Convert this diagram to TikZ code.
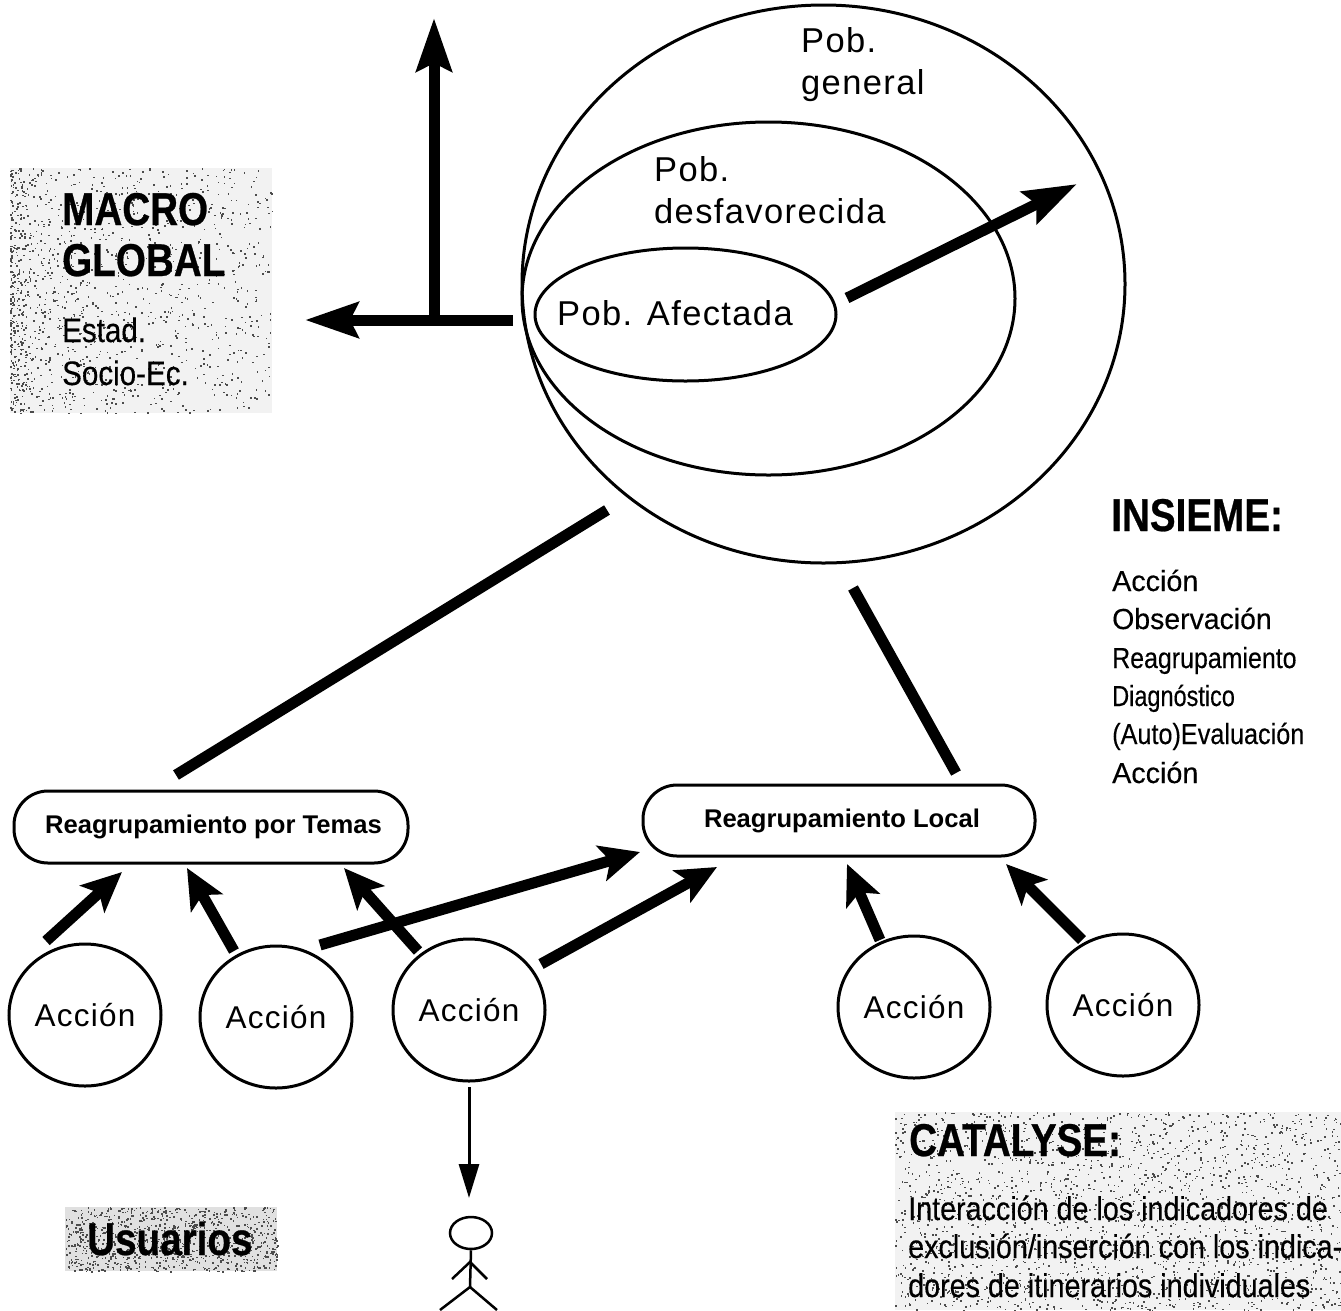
\documentclass[tikz,border=0pt]{standalone}
\usepackage{graphicx}
\usepackage{fontspec}
\setmainfont{Liberation Sans}
\newfontfamily\widefont[LetterSpace=4]{Liberation Sans}
\newfontfamily\headfont[FakeStretch=0.84,BoldFeatures={FakeBold=0.6}]{Liberation Sans}
\newfontfamily\bodyfont[FakeStretch=0.87,FakeBold=0.3]{Liberation Sans}
\newfontfamily\listfont[FakeBold=0.3]{Liberation Sans}
\newcommand{\sx}[2]{\scalebox{#1}[1]{#2}}
\newcommand{\speckle}[6]{% count, x, y, w, h, skew power
  \foreach \k in {1,...,#1}{
    \pgfmathsetmacro{\px}{#2+#4*(rnd^#6)}
    \pgfmathsetmacro{\py}{#3+#5*rnd}
    \fill[black!70] (\px,\py) rectangle +(1.6,1.6);
  }}
\usetikzlibrary{shapes.geometric,arrows.meta}
\tikzset{
  set/.style={draw,ellipse,line width=3pt,inner sep=0pt},
  accion/.style={set,minimum width=152pt,minimum height=142pt,font=\widefont\fontsize{31.5}{31.5}\selectfont},
  grupo/.style={draw,rounded corners=34pt,line width=3pt,inner sep=0pt,font=\bfseries\fontsize{25.6}{25.6}\selectfont},
  heavy/.style={line width=11pt},
  heavyarrow/.style={heavy,-{Stealth[length=40pt,width=36pt,inset=9pt]}},
  bigarrow/.style={heavy,-{Stealth[length=53pt,width=35pt,inset=8pt]}},
  thinarrow/.style={line width=3pt,-{Stealth[length=34pt,width=20pt,inset=0pt]}},
  stick/.style={line width=2.5pt},
  shade/.style={fill=black!5,draw=none,inner sep=0pt},
  head/.style={font=\headfont\bfseries\fontsize{46}{46}\selectfont,anchor=base west,inner sep=0pt},
  lbl/.style={font=\widefont\fontsize{34.5}{34.5}\selectfont,anchor=base west,inner sep=0pt},
  txt/.style={font=\bodyfont\fontsize{34}{34}\selectfont,anchor=base west,inner sep=0pt},
  lst/.style={font=\listfont\fontsize{29}{29}\selectfont,anchor=base west,inner sep=0pt},
  cat/.style={font=\bodyfont\fontsize{33}{33}\selectfont,anchor=base west,inner sep=0pt},
}
\begin{document}
\begin{tikzpicture}[x=1pt,y=-1pt]
\useasboundingbox (0,0) rectangle (1341,1310);
\pgfmathsetseed{4242}
% shaded panels
\node[shade,minimum width=262pt,minimum height=245pt] (macrobg) at (141,290) {};
\node[shade,minimum width=212pt,minimum height=64pt,fill=black!12] (usubg) at (171,1239) {};
\node[shade,minimum width=446pt,minimum height=198pt] (catbg) at (1118,1211) {};
\speckle{1300}{10}{168}{262}{245}{1.8}
\speckle{900}{65}{1207}{212}{64}{1}
\speckle{2000}{895}{1112}{446}{198}{1}
% population sets
\node[set,minimum width=603pt,minimum height=558pt] (gen) at (823.5,284) {};
\node[set,minimum width=493pt,minimum height=353pt] (des) at (768.5,298.5) {};
\node[set,minimum width=301pt,minimum height=133pt] (afe) at (685.5,314.5) {};
\node[lbl] (t1) at (801,52) {Pob.};
\node[lbl] (t2) at (801,94) {general};
\node[lbl] (t3) at (654,181) {Pob.};
\node[lbl] (t4) at (654,223) {desfavorecida};
\node[lbl] (t5) at (557,325) {Pob. Afectada};
% macro text
\node[head] (m1) at (62,225) {MACRO};
\node[head] (m2) at (62,276) {GLOBAL};
\node[txt] (m3) at (62,342) {Estad.};
\node[txt] (m4) at (62,385) {Socio-Ec.};
% axes
\coordinate (axc) at (434,320);
\coordinate (axtop) at (434,18);
\coordinate (axleft) at (305,320);
\coordinate (axr) at (513,320);
\draw[bigarrow] (axc) -- (axtop);
\draw[bigarrow] (axr) -- (axleft);
\coordinate (ds) at (847,298);
\coordinate (de) at (1077,184);
\draw[bigarrow] (ds) -- (de);
% insieme
\node[head] (i0) at (1111,531) {INSIEME:};
\node[lst] (i1) at (1112,591) {\sx{0.99}{Acción}};
\node[lst] (i2) at (1112,629) {\sx{0.98}{Observación}};
\node[lst] (i3) at (1112,668) {\sx{0.86}{Reagrupamiento}};
\node[lst] (i4) at (1112,706) {\sx{0.81}{Diagnóstico}};
\node[lst] (i5) at (1112,744) {\sx{0.87}{(Auto)Evaluación}};
\node[lst] (i6) at (1112,783) {\sx{0.99}{Acción}};
% groupings
\node[grupo,minimum width=394pt,minimum height=72pt] (rt) at (211,827) {\hspace*{5pt}\raisebox{3pt}{Reagrupamiento por Temas}};
\node[grupo,minimum width=392pt,minimum height=71pt] (rl) at (839,820.5) {\hspace*{6pt}\raisebox{2pt}{Reagrupamiento Local}};
\coordinate (l1a) at (607,510);
\coordinate (l1b) at (176,775);
\coordinate (l2a) at (853,588);
\coordinate (l2b) at (956,773);
\draw[heavy] (l1a) -- (l1b);
\draw[heavy] (l2a) -- (l2b);
% actions
\node[accion] (a1) at (85,1015) {Acción};
\node[accion] (a2) at (276,1017) {Acción};
\node[accion] (a3) at (469,1010) {Acción};
\node[accion] (a4) at (914,1007) {Acción};
\node[accion] (a5) at (1123,1005) {Acción};
% arrows
\coordinate (s1) at (46,941);   \coordinate (e1) at (122,872);
\coordinate (s2) at (234,951);  \coordinate (e2) at (187,868);
\coordinate (s3) at (418,951);  \coordinate (e3) at (344,868);
\coordinate (s4) at (320,945);  \coordinate (e4) at (640,852);
\coordinate (s5) at (541,964);  \coordinate (e5) at (717,867);
\coordinate (s6) at (880,940);  \coordinate (e6) at (847,864);
\coordinate (s7) at (1082,940); \coordinate (e7) at (1006,864);
\foreach \n in {1,...,7} \draw[heavyarrow] (s\n) -- (e\n);
% user
\node[draw,ellipse,stick,minimum width=42pt,minimum height=32pt,inner sep=0pt] (hd) at (471,1233) {};
\coordinate (pe) at (469,1198);
\draw[thinarrow] (a3) ++(0,77) -- (pe);
\coordinate (hip) at (470,1287);
\coordinate (sh) at (470,1262);
\coordinate (ha) at (452,1279);
\coordinate (hb) at (487,1279);
\coordinate (fa) at (440,1310);
\coordinate (fb) at (497,1310);
\draw[stick] (hd.south) -- (hip);
\draw[stick] (ha) -- (sh) -- (hb);
\draw[stick] (fa) -- (hip) -- (fb);
\node[head] (u) at (87,1255) {Usuarios};
% catalyse
\node[head] (c0) at (909,1156) {CATALYSE:};
\node[cat] (c1) at (908,1220) {Interacción de los indicadores de};
\node[cat] (c2) at (908,1258) {exclusión/inserción con los indica-};
\node[cat] (c3) at (908,1297) {dores de itinerarios individuales};
\end{tikzpicture}
\end{document}
